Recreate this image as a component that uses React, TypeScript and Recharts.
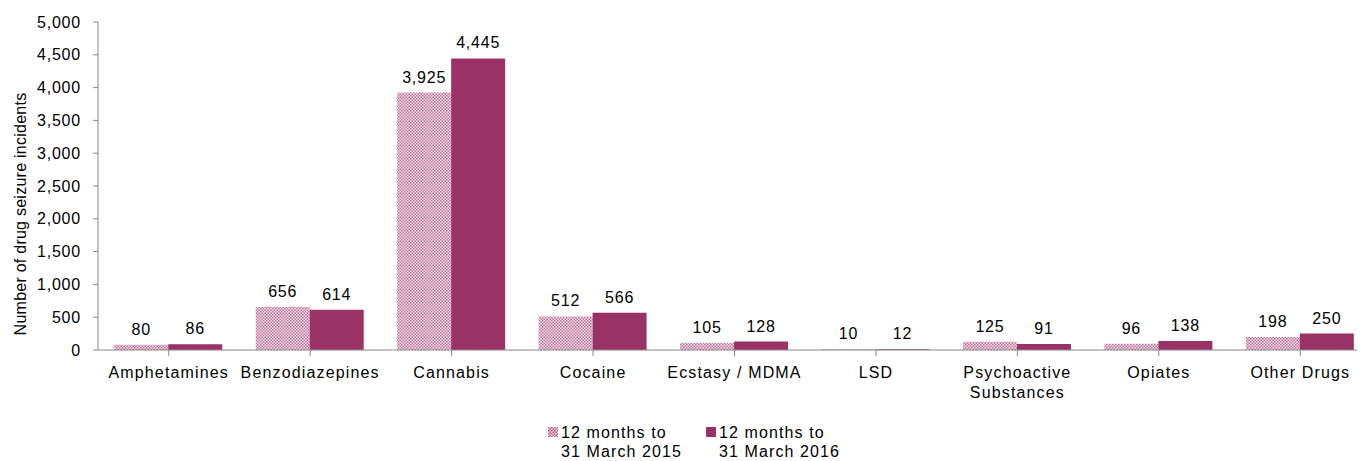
import React from "react";
import { BarChart, Bar, XAxis, YAxis, LabelList, Label } from "recharts";

const categories = [
  "Amphetamines",
  "Benzodiazepines",
  "Cannabis",
  "Cocaine",
  "Ecstasy / MDMA",
  "LSD",
  "Psychoactive Substances",
  "Opiates",
  "Other Drugs",
];
const series2015 = [80, 656, 3925, 512, 105, 10, 125, 96, 198];
const series2016 = [86, 614, 4445, 566, 128, 12, 91, 138, 250];
const yTicks = [0, 500, 1000, 1500, 2000, 2500, 3000, 3500, 4000, 4500, 5000];
const seriesNames = ["12 months to\n31 March 2015", "12 months to\n31 March 2016"];

const data = categories.map((c, i) => ({ name: c, a: series2015[i], b: series2016[i] }));

const SOLID = "#993366";
const FONT = "'Liberation Sans', Arial, sans-serif";
const fmt = (v: number) => v.toLocaleString("en-US");

const XTick = (props: any) => {
  const { x, y, payload } = props;
  const words = String(payload.value) === "Psychoactive Substances" ? ["Psychoactive", "Substances"] : [String(payload.value)];
  return (
    <g transform={`translate(${x},${y})`}>
      {words.map((w, i) => (
        <text key={i} x={0} y={20 + i * 20} textAnchor="middle" fill="#000" fontSize={16} fontFamily={FONT} style={{ letterSpacing: 1.15 }}>
          {w}
        </text>
      ))}
    </g>
  );
};

const YLabel = () => (
  <text
    x={12}
    y={206}
    transform="rotate(-90, 12, 206)"
    textAnchor="middle"
    dominantBaseline="central"
    fontSize={16}
    fontFamily={FONT}
    fill="#000"
    style={{ letterSpacing: 0.25 }}
  >
    Number of drug seizure incidents
  </text>
);

const Swatch = ({ kind }: { kind: number }) => (
  <svg width={10} height={10} style={{ display: "block" }}>
    <defs>
      <pattern id="chk2" width="3" height="3" patternUnits="userSpaceOnUse">
        <rect width="3" height="3" fill="#f2d5e3" />
        <rect width="1.5" height="1.5" fill="#b35a87" />
        <rect x="1.5" y="1.5" width="1.5" height="1.5" fill="#b35a87" />
      </pattern>
    </defs>
    {kind === 0 ? <rect width={10} height={10} fill="url(#chk2)" /> : <rect width={10} height={10} fill={SOLID} />}
  </svg>
);

export default function App() {
  return (
    <div style={{ position: "relative", width: 1357, height: 461, overflow: "hidden", fontFamily: FONT }}>
      <BarChart
        width={1363}
        height={420}
        data={data}
        margin={{ top: 14, right: 0, bottom: 28, left: 0 }}
        barCategoryGap="11.5%"
        barGap={0}
      >
        <defs>
          <pattern id="chk" width="3" height="3" patternUnits="userSpaceOnUse">
            <rect width="3" height="3" fill="#f6e3ec" />
            <rect width="1.5" height="1.5" fill="#c06f98" />
            <rect x="1.5" y="1.5" width="1.5" height="1.5" fill="#c06f98" />
          </pattern>
        </defs>
        <XAxis
          dataKey="name"
          height={50}
          interval={0}
          tick={<XTick />}
          tickSize={6}
          axisLine={{ stroke: "#888" }}
          tickLine={{ stroke: "#888" }}
          scale="band"
        />
        <YAxis
          width={90}
          domain={[0, 5000]}
          ticks={yTicks}
          interval={0}
          tickFormatter={fmt}
          tickSize={5}
          tickMargin={12}
          axisLine={{ stroke: "#888" }}
          tickLine={{ stroke: "#888" }}
          tick={{ fill: "#000", fontSize: 16, fontFamily: FONT, style: { letterSpacing: 0.8 } } as any}
        >
          <Label content={<YLabel />} />
        </YAxis>
        <Bar dataKey="a" fill="url(#chk)" isAnimationActive={false}>
          <LabelList dataKey="a" position="top" offset={10} formatter={fmt as any} style={{ fontSize: 16, fontFamily: FONT, fill: "#000", letterSpacing: 0.8 }} />
        </Bar>
        <Bar dataKey="b" fill={SOLID} isAnimationActive={false}>
          <LabelList dataKey="b" position="top" offset={10} formatter={fmt as any} style={{ fontSize: 16, fontFamily: FONT, fill: "#000", letterSpacing: 0.8 }} />
        </Bar>
      </BarChart>
      <div style={{ position: "absolute", left: 540, top: 415, display: "flex", gap: 24, fontSize: 16, letterSpacing: 1.1, lineHeight: "19px", color: "#000" }}>
        {seriesNames.map((n, i) => (
          <div key={i} style={{ display: "flex", alignItems: "flex-start" }}>
            <div style={{ marginTop: 4, marginRight: 3 }}>
              <Swatch kind={i} />
            </div>
            <div style={{ whiteSpace: "pre" }}>{n}</div>
          </div>
        ))}
      </div>
    </div>
  );
}
